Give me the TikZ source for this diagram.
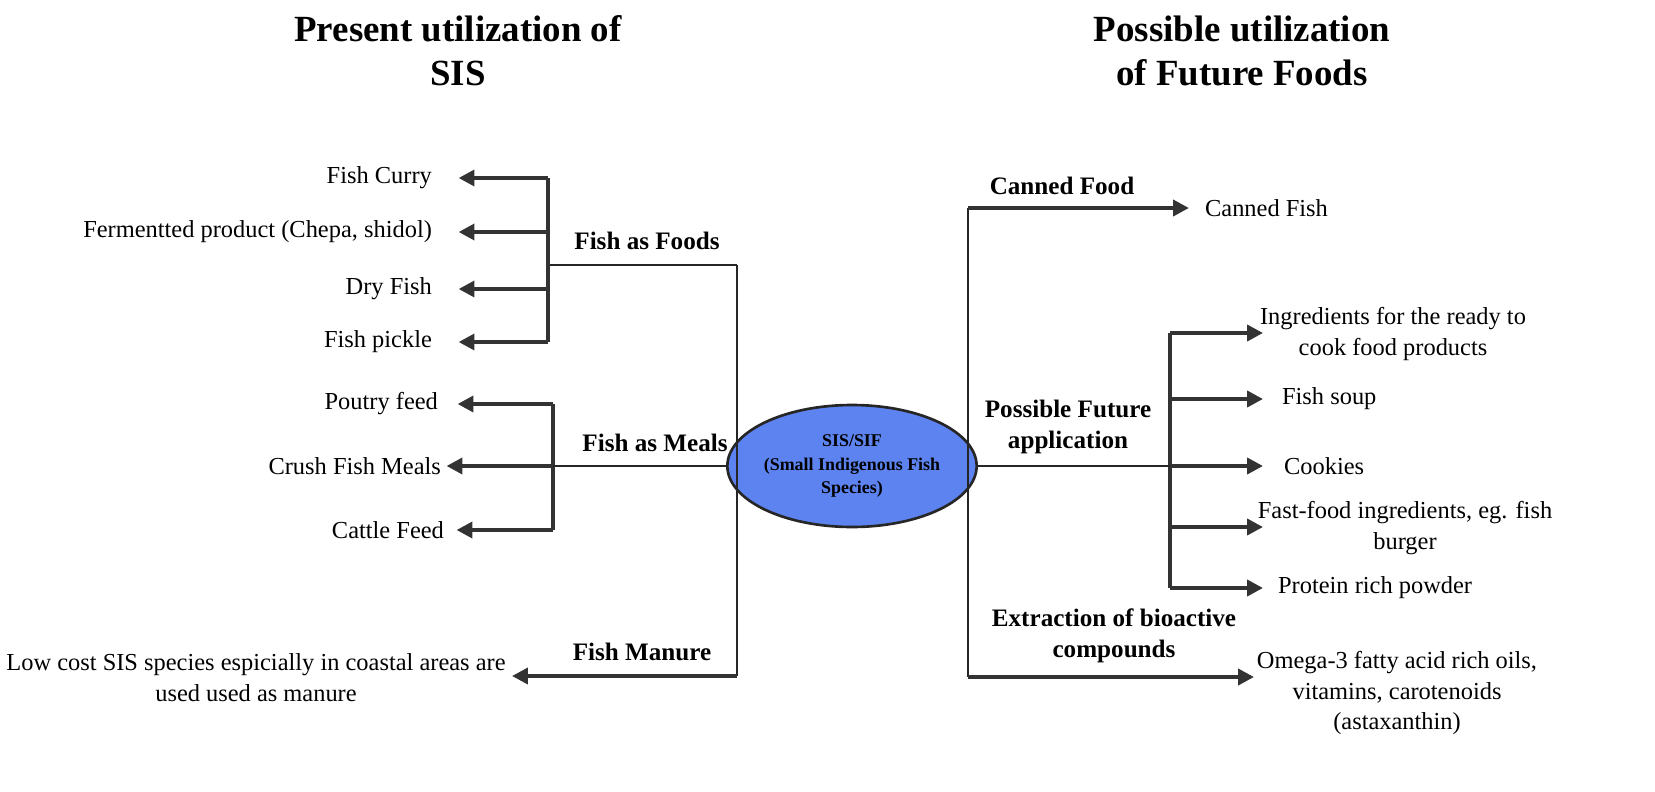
\documentclass[tikz,border=0pt]{standalone}
\usepackage{fontspec}
\setmainfont{Liberation Serif}
\usetikzlibrary{arrows.meta,shapes.geometric}
\begin{document}
\begin{tikzpicture}[x=0.02cm,y=-0.02cm,
  txt/.style={font=\fontsize{13.9}{17.5}\selectfont,inner sep=1pt},
  lbl/.style={font=\fontsize{14.3}{17.5}\selectfont\bfseries,inner sep=1pt,align=center},
  ttl/.style={font=\fontsize{21}{25}\selectfont\bfseries,align=center},
  trunk/.style={draw=black!85,line width=1.3pt},
  brk/.style={draw=black!80,line width=1.8pt},
  arr/.style={draw=black!80,line width=2.2pt,-{Triangle[length=9pt,width=9pt]}}]
\useasboundingbox (0,0) rectangle (1655,791);
% titles
\node[ttl] (t1) at (458,51) {Present utilization of\\SIS};
\node[ttl] (t2) at (1242,51) {Possible utilization\\of Future Foods};
% center
\node[ellipse,draw=black!85,line width=1.5pt,fill={rgb,255:red,92;green,131;blue,240},minimum width=4.64cm,minimum height=2.44cm,inner sep=0pt,align=center,font=\fontsize{10.2}{13.5}\selectfont\bfseries] (c) at (852,466) {SIS/SIF\\(Small Indigenous Fish\\Species)};
% left trunk
\coordinate (lt1) at (737,265); \coordinate (lt3) at (737,676);
\draw[trunk] (lt1) -- (lt3);
% Fish as foods
\coordinate (ff) at (548,265); \coordinate (fa) at (548,178); \coordinate (fb) at (548,342);
\draw[trunk] (lt1) -- (ff);
\draw[brk] (fa) -- (fb);
\node[lbl] (lff) at (647,241) {Fish as Foods};
\node[txt,anchor=east] (n1) at (434,178) {Fish Curry};
\node[txt,anchor=east] (n2) at (434,232) {Fermentted product (Chepa, shidol)};
\node[txt,anchor=east] (n3) at (434,289) {Dry Fish};
\node[txt,anchor=east] (n4) at (434,342) {Fish pickle};
\draw[arr] (fa) -- ([xshift=14]n1.east);
\draw[arr] (548,232) -- ([xshift=14]n2.east);
\draw[arr] (548,289) -- ([xshift=14]n3.east);
\draw[arr] (fb) -- ([xshift=14]n4.east);
% Fish as meals
\coordinate (ma) at (553,404); \coordinate (mb) at (553,530);
\draw[brk] (ma) -- (mb);
\node[lbl] (lfm) at (655,443) {Fish as Meals};
\node[txt,anchor=east] (m1) at (440,404) {Poutry feed};
\node[txt,anchor=east] (m2) at (443,466) {Crush Fish Meals};
\node[txt,anchor=east] (m3) at (446,530) {Cattle Feed};
\draw[trunk] (c.west) -- (553,466);
\draw[arr] (553,466) -- ([xshift=2]m2.east);
\draw[arr] (ma) -- ([xshift=10]m1.east);
\draw[arr] (mb) -- ([xshift=6]m3.east);
% manure
\node[lbl] (lfu) at (642,652) {Fish Manure};
\node[txt,align=center] (u1) at (256,678) {Low cost SIS species espicially in coastal areas are\\used used as manure};
\draw[arr] (lt3) -- (512,676);
% right trunk
\coordinate (rt1) at (968,208); \coordinate (rt3) at (968,677);
\draw[trunk] (rt1) -- (rt3);
\node[lbl] (lcf) at (1062,186) {Canned Food};
\node[txt,anchor=west] (r0) at (1203,208) {Canned Fish};
\draw[arr] (rt1) -- ([xshift=-8]r0.west);
% possible future
\node[lbl] (lpf) at (1068,427) {Possible Future\\application};
\coordinate (pa) at (1170,333); \coordinate (pb) at (1170,588);
\draw[brk] (pa) -- (pb);
\draw[trunk] (c.east) -- (1170,466);
\node[txt,align=center] (p1) at (1393,334) {Ingredients for the ready to\\cook food products};
\node[txt,anchor=west] (p2) at (1280,399) {Fish soup};
\node[txt,anchor=west] (p3) at (1282,466) {Cookies};
\node[txt,align=center] (p4) at (1405,528) {Fast-food ingredients, eg. fish\\burger};
\node[txt,anchor=west] (p5) at (1276,588) {Protein rich powder};
\draw[arr] (pa) -- (1263,333);
\draw[arr] (1170,399) -- (1263,399);
\draw[arr] (1170,466) -- (1263,466);
\draw[arr] (1170,527) -- (1263,527);
\draw[arr] (pb) -- (1263,588);
% extraction
\node[lbl] (lex) at (1114,636) {Extraction of bioactive\\compounds};
\node[txt,align=center] (e1) at (1397,693) {Omega-3 fatty acid rich oils,\\vitamins, carotenoids\\(astaxanthin)};
\draw[arr] (rt3) -- (1254,677);
\end{tikzpicture}
\end{document}
